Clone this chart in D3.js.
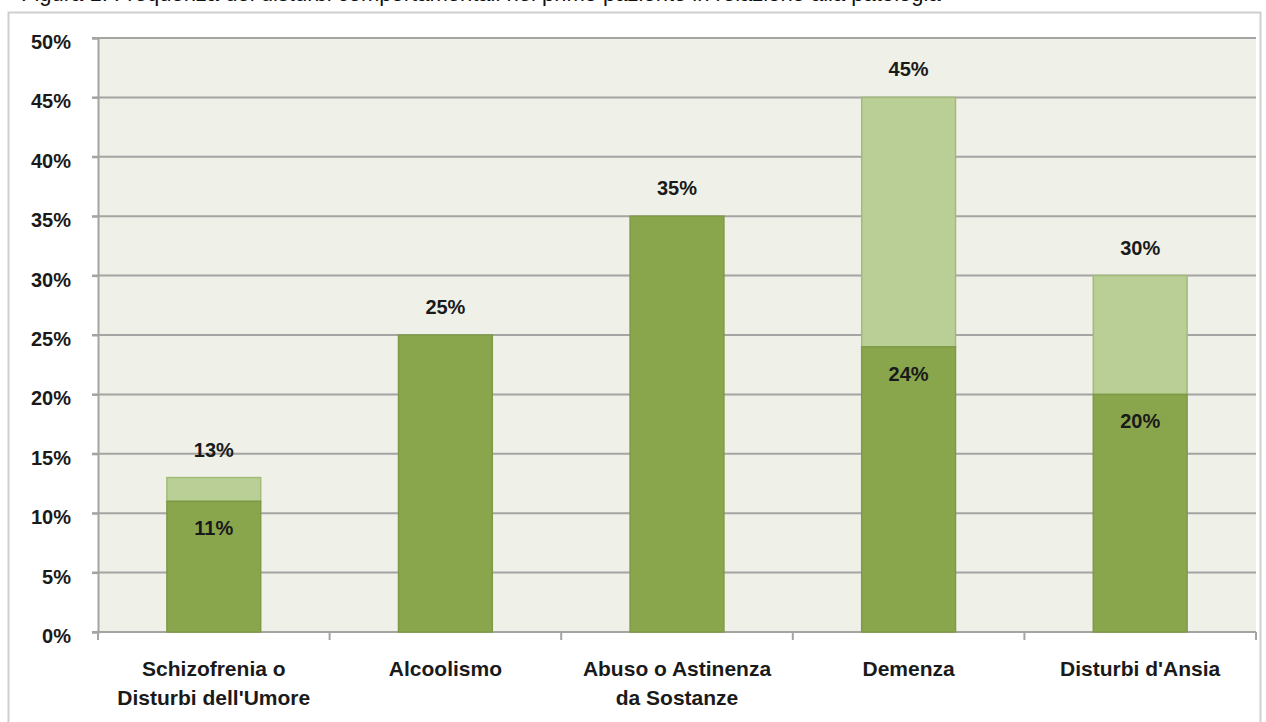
<!DOCTYPE html>
<html>
<head>
<meta charset="utf-8">
<script src="https://cdn.jsdelivr.net/npm/d3@7"></script>
<style>
  body { margin: 0; background: #fff; }
  svg { display: block; font-family: "Liberation Sans", Arial, sans-serif; }
</style>
</head>
<body>
<div id="vis"></div>
<script>
// data
var categories = ["Schizofrenia o\nDisturbi dell'Umore", "Alcoolismo", "Abuso o Astinenza\nda Sostanze", "Demenza", "Disturbi d'Ansia"];
var baseValues = [11, 25, 35, 24, 20];      // dark segment
var totalValues = [13, 25, 35, 45, 30];     // top of the light segment
var yTicks = [0, 5, 10, 15, 20, 25, 30, 35, 40, 45, 50];
var titleText = "Figura 1. Frequenza dei disturbi comportamentali nel primo paziente in relazione alla patologia";

var width = 1266, height = 722;
var margin = {left: 98, right: 10, top: 38, bottom: 90};

var svg = d3.select("#vis").append("svg")
  .attr("width", width)
  .attr("height", height);

// caption, cut off by the top edge as in the scan
svg.append("text")
  .attr("x", 21).attr("y", 1)
  .attr("font-size", 22)
  .attr("fill", "#111")
  .text(titleText);

// outer frame
svg.append("rect")
  .attr("x", 8.5).attr("y", 12.5)
  .attr("width", 1252).attr("height", 740)
  .attr("fill", "#fff")
  .attr("stroke", "#cfcfcf")
  .attr("stroke-width", 2);

var x = d3.scaleBand()
  .domain(categories)
  .range([margin.left, width - margin.right])
  .padding(0);

var y = d3.scaleLinear()
  .domain([0, 50])
  .range([632, margin.top]);

var barW = x.bandwidth() * 0.405;

// plot background
svg.append("rect")
  .attr("x", margin.left).attr("y", y(50))
  .attr("width", width - margin.right - margin.left)
  .attr("height", y(0) - y(50))
  .attr("fill", "#eff1e9");

// gridlines
svg.append("g")
  .selectAll("line")
  .data(yTicks.filter(function(d){ return d > 0; }))
  .join("line")
  .attr("x1", margin.left - 6).attr("x2", width - margin.right)
  .attr("y1", function(d){ return y(d); })
  .attr("y2", function(d){ return y(d); })
  .attr("stroke", "#a4a4a2")
  .attr("stroke-width", 2);

// y axis
var yAxis = svg.append("g")
  .attr("transform", "translate(" + margin.left + ",0)")
  .call(d3.axisLeft(y).tickValues(yTicks).tickSize(6).tickPadding(21)
    .tickFormat(function(d){ return d + "%"; }));
yAxis.select(".domain").attr("stroke", "#a4a4a2").attr("stroke-width", 2);
yAxis.selectAll(".tick line").attr("stroke", "#a4a4a2").attr("stroke-width", 2);
yAxis.selectAll(".tick text")
  .attr("dy", "0.52em")
  .attr("font-family", "Liberation Sans, Arial, sans-serif")
  .attr("font-size", 20).attr("font-weight", "bold").attr("fill", "#1a1a1a");

// x axis line and ticks between categories
svg.append("line")
  .attr("x1", margin.left - 6).attr("x2", width - margin.right)
  .attr("y1", y(0)).attr("y2", y(0))
  .attr("stroke", "#a4a4a2").attr("stroke-width", 2);

svg.append("g")
  .selectAll("line")
  .data(categories.concat(["end"]))
  .join("line")
  .attr("x1", function(d, i){ return margin.left + i * x.step(); })
  .attr("x2", function(d, i){ return margin.left + i * x.step(); })
  .attr("y1", y(0)).attr("y2", y(0) + 8)
  .attr("stroke", "#a4a4a2").attr("stroke-width", 2);

// bars
var bars = svg.append("g").selectAll("g")
  .data(categories)
  .join("g");

// light segment (total)
bars.filter(function(d, i){ return totalValues[i] > baseValues[i]; })
  .append("rect")
  .attr("x", function(d){ return x(d) + x.bandwidth() / 2 - barW / 2; })
  .attr("width", barW)
  .attr("y", function(d){ return y(totalValues[categories.indexOf(d)]); })
  .attr("height", function(d){
    var i = categories.indexOf(d);
    return y(baseValues[i]) - y(totalValues[i]);
  })
  .attr("fill", "#bacf96")
  .attr("stroke", "#a2bb78")
  .attr("stroke-width", 1.5);

// dark segment
bars.append("rect")
  .attr("x", function(d){ return x(d) + x.bandwidth() / 2 - barW / 2; })
  .attr("width", barW)
  .attr("y", function(d, i){ return y(baseValues[i]); })
  .attr("height", function(d, i){ return y(0) - y(baseValues[i]); })
  .attr("fill", "#89a64d")
  .attr("stroke", "#7f9a46")
  .attr("stroke-width", 1.5);

// labels above bars
bars.append("text")
  .attr("x", function(d){ return x(d) + x.bandwidth() / 2; })
  .attr("y", function(d, i){ return y(totalValues[i]) - 21; })
  .attr("text-anchor", "middle")
  .attr("font-size", 20).attr("font-weight", "bold").attr("fill", "#1a1a1a")
  .text(function(d, i){ return totalValues[i] + "%"; });

// labels inside dark segment
bars.filter(function(d, i){ return totalValues[i] > baseValues[i]; })
  .append("text")
  .attr("x", function(d){ return x(d) + x.bandwidth() / 2; })
  .attr("y", function(d){ return y(baseValues[categories.indexOf(d)]) + 34; })
  .attr("text-anchor", "middle")
  .attr("font-size", 20).attr("font-weight", "bold").attr("fill", "#1a1a1a")
  .text(function(d){ return baseValues[categories.indexOf(d)] + "%"; });

// category labels
svg.append("g").selectAll("text")
  .data(categories)
  .join("text")
  .attr("x", function(d){ return x(d) + x.bandwidth() / 2; })
  .attr("y", 676)
  .attr("text-anchor", "middle")
  .attr("font-size", 21).attr("font-weight", "bold").attr("fill", "#1a1a1a")
  .each(function(d){
    var t = d3.select(this);
    d.split("\n").forEach(function(line, k){
      t.append("tspan")
        .attr("x", t.attr("x"))
        .attr("dy", k === 0 ? 0 : 29)
        .text(line);
    });
  });
</script>
</body>
</html>
